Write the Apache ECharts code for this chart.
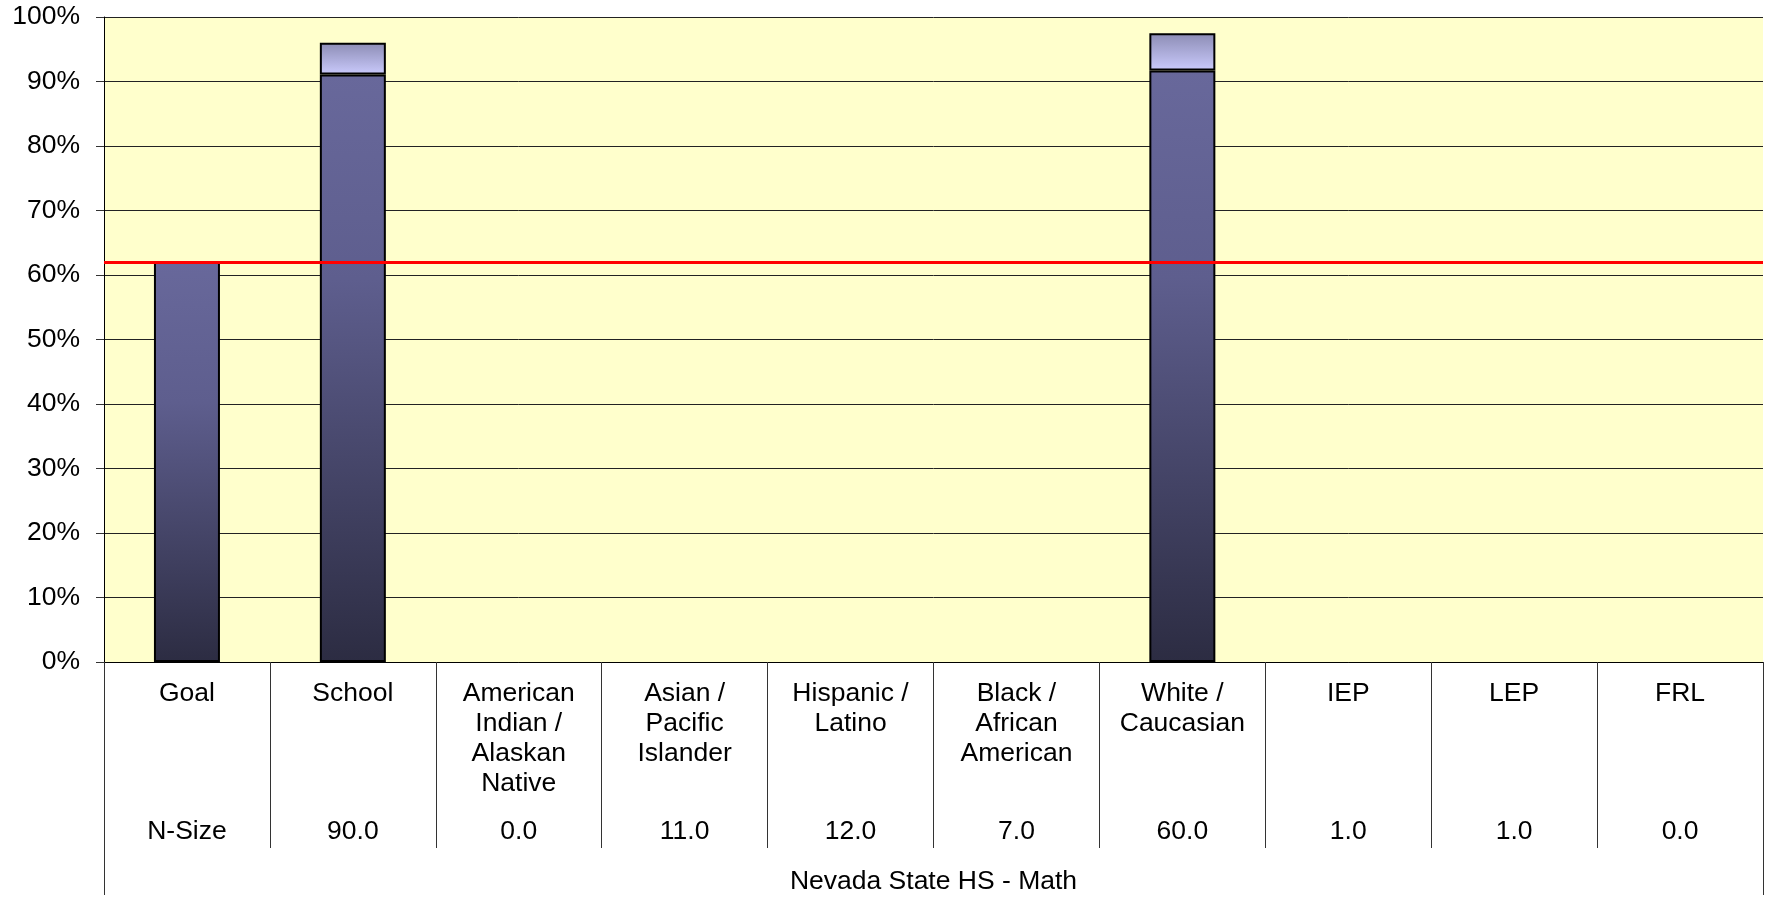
<!DOCTYPE html>
<html>
<head>
<meta charset="utf-8">
<script src="https://cdn.jsdelivr.net/npm/echarts@6/dist/echarts.min.js"></script>
<style>
html,body{margin:0;padding:0;background:#fff;}
#c{width:1767px;height:900px;}
</style>
</head>
<body>
<div id="c"></div>
<script>
// ---- data ----
const categories = ['Goal', 'School', 'American\nIndian /\nAlaskan\nNative', 'Asian /\nPacific\nIslander', 'Hispanic /\nLatino', 'Black /\nAfrican\nAmerican', 'White /\nCaucasian', 'IEP', 'LEP', 'FRL'];
const proficient = [62, 91.1, null, null, null, null, 91.7, null, null, null];
const emergent   = [null, 4.9, null, null, null, null, 5.8, null, null, null];
const nSizeHeader = 'N-Size';
const nSize = [90.0, 0.0, 11.0, 12.0, 7.0, 60.0, 1.0, 1.0, 0.0];
const goalValue = 62;
const yTicks = [0, 10, 20, 30, 40, 50, 60, 70, 80, 90, 100];
const axisTitle = 'Nevada State HS - Math';

const nSizeLabels = [nSizeHeader].concat(nSize.map(v => v.toFixed(1)));
const FONT = '"Liberation Sans", Arial, sans-serif';
const FS = 26.5;

const chart = echarts.init(document.getElementById('c'));
chart.setOption({
  animation: false,
  backgroundColor: '#ffffff',
  textStyle: { fontFamily: FONT },
  grid: { left: 104, right: 4, top: 17, bottom: 233, show: true, backgroundColor: '#ffffcc', borderWidth: 0, containLabel: false },
  xAxis: [
    {
      type: 'category', data: categories, position: 'bottom',
      axisLine: { show: true, lineStyle: { color: '#000', width: 1 } },
      axisTick: { show: true, interval: 0, length: 186, lineStyle: { color: '#333', width: 1 } },
      axisLabel: { interval: 0, margin: 17, fontSize: FS, lineHeight: 30, color: '#000', fontFamily: FONT, align: 'center' },
      splitLine: { show: false }
    },
    {
      type: 'value', min: 0, max: 1, interval: 1, position: 'bottom', offset: 0,
      axisLine: { show: false },
      axisTick: { show: true, length: 233, lineStyle: { color: '#333', width: 1 } },
      axisLabel: { show: false },
      splitLine: { show: false },
      name: axisTitle, nameLocation: 'middle', nameGap: 206,
      nameTextStyle: { fontSize: FS, color: '#000', fontFamily: FONT }
    },
    {
      type: 'category', data: nSizeLabels, position: 'bottom', offset: 0,
      axisLine: { show: false }, axisTick: { show: false },
      axisLabel: { interval: 0, margin: 156, fontSize: FS, lineHeight: 28, color: '#000', fontFamily: FONT },
      splitLine: { show: false }
    }
  ],
  yAxis: {
    type: 'value', min: yTicks[0], max: yTicks[yTicks.length - 1], interval: yTicks[1] - yTicks[0],
    axisLine: { show: true, lineStyle: { color: '#000', width: 1 } },
    axisTick: { show: true, length: 8, lineStyle: { color: '#333' } },
    axisLabel: { formatter: '{value}%', fontSize: FS, color: '#000', margin: 24, fontFamily: FONT },
    splitLine: { show: true, lineStyle: { color: '#222', width: 1 } }
  },
  series: [
    {
      name: 'Proficient', type: 'bar', stack: 'a', xAxisIndex: 0, yAxisIndex: 0,
      data: proficient, barWidth: 66,
      itemStyle: {
        borderColor: '#000', borderWidth: 2,
        color: new echarts.graphic.LinearGradient(0, 0, 0, 1, [
          { offset: 0, color: '#68689b' },
          { offset: 0.35, color: '#5e5e8e' },
          { offset: 1, color: '#2c2c42' }
        ])
      },
      markLine: {
        silent: true, symbol: 'none', label: { show: false },
        lineStyle: { color: '#ff0000', width: 3, type: 'solid' },
        data: [{ yAxis: goalValue }]
      },
      z: 2
    },
    {
      name: 'Emergent', type: 'bar', stack: 'a', xAxisIndex: 0, yAxisIndex: 0,
      data: emergent, barWidth: 66,
      itemStyle: {
        borderColor: '#000', borderWidth: 2,
        color: new echarts.graphic.LinearGradient(0, 0, 0, 1, [
          { offset: 0, color: '#8c8cb4' },
          { offset: 1, color: '#cacafc' }
        ])
      },
      z: 2
    }
  ]
});
</script>
</body>
</html>
